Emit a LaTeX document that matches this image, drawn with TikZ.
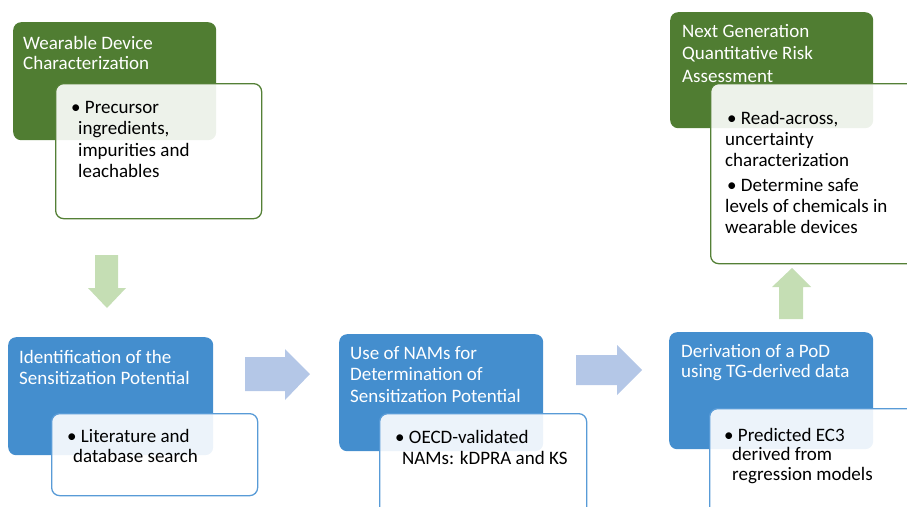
\documentclass[tikz,border=0pt]{standalone}
\usepackage{fontspec}
\setmainfont{Carlito}
\definecolor{dgreen}{RGB}{80,125,50}
\definecolor{dblue}{RGB}{68,142,206}
\definecolor{lgreen}{RGB}{197,222,180}
\definecolor{lblue}{RGB}{180,199,231}
\definecolor{gline}{RGB}{84,128,54}
\definecolor{bline}{RGB}{88,155,215}
\tikzset{
  gbox/.style={fill=dgreen, rounded corners=8pt, anchor=north west, inner sep=0pt},
  bbox/.style={fill=dblue, rounded corners=8pt, anchor=north west, inner sep=0pt},
  wgbox/.style={fill=white, fill opacity=0.9, draw=gline, line width=1.3pt, rounded corners=8pt, anchor=north west, inner sep=0pt},
  wbbox/.style={fill=white, fill opacity=0.9, draw=bline, line width=1.3pt, rounded corners=8pt, anchor=north west, inner sep=0pt},
  ttl/.style={text=white, anchor=base west, align=left, inner sep=0pt, font=\fontsize{19}{21.5}\selectfont},
  txt/.style={text=black, anchor=base west, align=left, inner sep=0pt, font=\fontsize{19}{21.5}\selectfont},
  garrow/.style={fill=lgreen},
  barrow/.style={fill=lblue}
}
\begin{document}
\begin{tikzpicture}[x=1pt,y=-1pt]
\useasboundingbox (0,0) rectangle (907,506);
\clip (0,0) rectangle (907,506);
% colored boxes
\node[gbox, minimum width=203pt, minimum height=118pt] (b1) at (13,22) {};
\node[gbox, minimum width=203pt, minimum height=116pt] (b5) at (670,12) {};
\node[bbox, minimum width=205pt, minimum height=118pt] (b2) at (8,337) {};
\node[bbox, minimum width=204pt, minimum height=117pt] (b3) at (339,334) {};
\node[bbox, minimum width=204pt, minimum height=117pt] (b4) at (669,332) {};
% white boxes
\node[wgbox, minimum width=206pt, minimum height=135pt] (w1) at (55,83) {};
\node[wgbox, minimum width=220pt, minimum height=180pt] (w5) at (710,83) {};
\node[wbbox, minimum width=206pt, minimum height=82pt] (w2) at (51,413) {};
\node[wbbox, minimum width=207pt, minimum height=120pt] (w3) at (379,413) {};
\node[wbbox, minimum width=240pt, minimum height=130pt] (w4) at (709,408) {};
% titles (anchored at the baseline of the last line)
\node[ttl, font=\fontsize{19}{20.5}\selectfont] (t1) at (23,69.5) {Wearable Device\\Characterization};
\node[ttl, font=\fontsize{19}{22.5}\selectfont] (t5) at (682,82) {Next Generation\\Quantitative Risk\\Assessment};
\node[ttl, font=\fontsize{19}{21}\selectfont] (t2) at (19,384) {Identification of the\\Sensitization Potential};
\node[ttl] (t3) at (350,402) {Use of NAMs for\\Determination of\\Sensitization Potential};
\node[ttl, font=\fontsize{19}{20}\selectfont] (t4) at (681,377) {Derivation of a PoD\\using TG-derived data};
% bullet texts
\node[txt] (x1) at (71,177.5) {\textbullet\ Precursor\\\hspace*{7pt}ingredients,\\\hspace*{7pt}impurities and\\\hspace*{7pt}leachables};
\node[txt, font=\fontsize{19}{21}\selectfont] (x5) at (727,233) {\textbullet\ Read-across,\\\hspace*{-2pt}uncertainty\\\hspace*{-2pt}characterization\\[4pt]\textbullet\ Determine safe\\\hspace*{-2pt}levels of chemicals in\\\hspace*{-2pt}wearable devices};
\node[txt, font=\fontsize{19}{20.5}\selectfont] (x2) at (67,462.5) {\textbullet\ Literature and\\\hspace*{6pt}database search};
\node[txt, font=\fontsize{19}{21}\selectfont] (x3) at (395,464) {\textbullet\ OECD-validated\\\hspace*{7pt}NAMs: kDPRA and KS};
\node[txt, font=\fontsize{19}{19.5}\selectfont] (x4) at (724,480) {\textbullet\ Predicted EC3\\\hspace*{8pt}derived from\\\hspace*{8pt}regression models};
% block arrows
\fill[garrow] (95,255) -- (118,255) -- (118,288) -- (126,288) -- (107,308) -- (88,288) -- (95,288) -- cycle;
\fill[garrow] (779,319) -- (803,319) -- (803,287) -- (811,287) -- (792,268) -- (772,287) -- (779,287) -- cycle;
\fill[barrow] (245,357) -- (285,357) -- (285,349) -- (310,374) -- (285,400) -- (285,391) -- (245,391) -- cycle;
\fill[barrow] (576,355) -- (617,355) -- (617,345) -- (642,370) -- (617,395) -- (617,385) -- (576,385) -- cycle;
\end{tikzpicture}
\end{document}
